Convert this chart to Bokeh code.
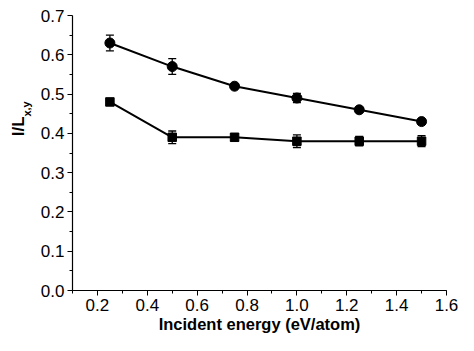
from bokeh.plotting import figure
from bokeh.layouts import row
from bokeh.models import ColumnDataSource, Whisker, TeeHead, Label, FixedTicker, NumeralTickFormatter, Range1d
from bokeh.embed import file_html
from bokeh.resources import INLINE

energy = [0.25, 0.5, 0.75, 1.0, 1.25, 1.5]
circle_vals = [0.63, 0.57, 0.52, 0.49, 0.46, 0.43]
circle_err = [0.02, 0.02, 0.005, 0.012, 0.005, 0.005]
square_vals = [0.48, 0.39, 0.39, 0.38, 0.38, 0.38]
square_err = [0.004, 0.016, 0.009, 0.016, 0.012, 0.014]
x_ticks = [0.2, 0.4, 0.6, 0.8, 1.0, 1.2, 1.4, 1.6]
y_ticks = [0.0, 0.1, 0.2, 0.3, 0.4, 0.5, 0.6, 0.7]

FONT = "Liberation Sans"

# narrow strip holding the rotated y-axis title (pixel coordinates)
lab = figure(width=36, height=351, output_backend="svg", toolbar_location=None,
             x_range=Range1d(0, 36), y_range=Range1d(0, 351),
             x_axis_type=None, y_axis_type=None, min_border=0)
lab.outline_line_color = None
lab.grid.visible = False
lab.background_fill_color = "white"
lab.border_fill_color = "white"
lab.add_layout(Label(x=18, y=197, text="I/L", angle=1.5708,
                     text_align="left", text_baseline="alphabetic", text_font=FONT,
                     text_font_size="17px", text_font_style="bold", text_color="black"))
lab.add_layout(Label(x=26, y=222, text="x,y", angle=1.5708,
                     text_align="left", text_baseline="alphabetic", text_font=FONT,
                     text_font_size="11px", text_font_style="bold", text_color="black"))

p = figure(width=438, height=351, output_backend="svg", toolbar_location=None,
           x_range=Range1d(0.1, 1.6), y_range=Range1d(0.0, 0.7),
           min_border_left=36, min_border_right=28, min_border_top=15, min_border_bottom=61)
p.outline_line_color = None
p.grid.visible = False
p.background_fill_color = "white"
p.border_fill_color = "white"

c_src = ColumnDataSource(dict(x=energy, y=circle_vals,
                              lo=[v - e for v, e in zip(circle_vals, circle_err)],
                              hi=[v + e for v, e in zip(circle_vals, circle_err)]))
s_src = ColumnDataSource(dict(x=energy, y=square_vals,
                              lo=[v - e for v, e in zip(square_vals, square_err)],
                              hi=[v + e for v, e in zip(square_vals, square_err)]))

for src in (c_src, s_src):
    w = Whisker(source=src, base="x", lower="lo", upper="hi", line_color="black", line_width=1.3,
                upper_head=TeeHead(size=8, line_color="black", line_width=1.3),
                lower_head=TeeHead(size=8, line_color="black", line_width=1.3))
    p.add_layout(w)

p.line("x", "y", source=c_src, line_color="black", line_width=2)
p.scatter("x", "y", source=c_src, marker="circle", size=10, color="black")
p.line("x", "y", source=s_src, line_color="black", line_width=2)
p.scatter("x", "y", source=s_src, marker="square", size=8.5, color="black")

for ax in (p.xaxis[0], p.yaxis[0]):
    ax.axis_line_color = "black"
    ax.axis_line_width = 1.2
    ax.major_tick_line_color = "black"
    ax.minor_tick_line_color = "black"
    ax.major_tick_out = 5
    ax.major_tick_in = 0
    ax.minor_tick_out = 3
    ax.minor_tick_in = 0
    ax.major_label_text_font = FONT
    ax.major_label_text_font_size = "17px"
    ax.major_label_text_color = "black"
    ax.axis_label_text_font = FONT
    ax.axis_label_text_font_size = "16.5px"
    ax.axis_label_text_font_style = "bold"
    ax.axis_label_text_color = "black"

p.xaxis[0].ticker = FixedTicker(ticks=x_ticks, minor_ticks=[0.1 + 0.1 * i for i in range(16)])
p.yaxis[0].ticker = FixedTicker(ticks=y_ticks, minor_ticks=[0.05 * i for i in range(15)])
p.xaxis[0].formatter = NumeralTickFormatter(format="0.0")
p.yaxis[0].formatter = NumeralTickFormatter(format="0.0")
p.xaxis[0].axis_label = "Incident energy (eV/atom)"
p.xaxis[0].major_label_standoff = 3
p.xaxis[0].axis_label_standoff = 1
p.yaxis[0].major_label_standoff = 3

layout = row(lab, p, spacing=0)
open("out.html", "w").write(file_html(layout, INLINE))
